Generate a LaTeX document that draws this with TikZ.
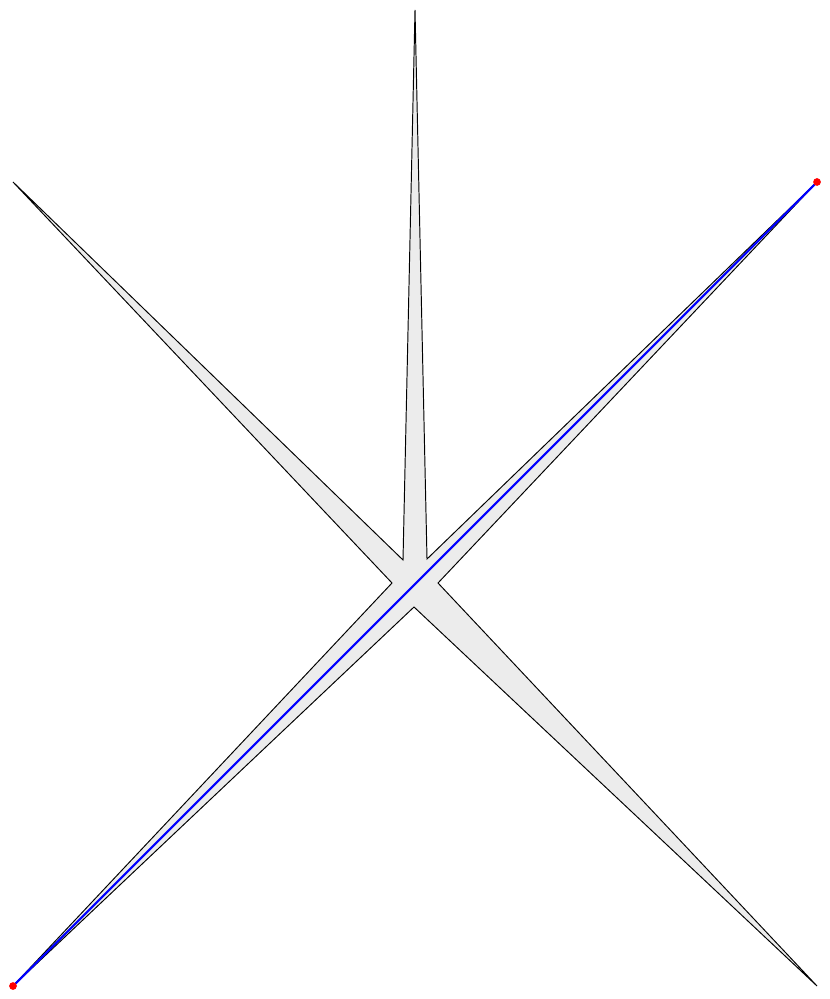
\documentclass[tikz,border=0pt]{standalone}
\usepackage{tikz}

\begin{document}
\begin{tikzpicture}[x=0.02cm,y=-0.02cm]
\useasboundingbox (0,0) rectangle (830,999);
% tips of the spikes
\coordinate (T) at (415,10);
\coordinate (TL) at (13,182);
\coordinate (TR) at (817,182);
\coordinate (BL) at (13,986);
\coordinate (BR) at (817,986);
% inner corners
\coordinate (A) at (403,560);
\coordinate (B) at (392,583);
\coordinate (C) at (414,607);
\coordinate (D) at (438,583);
\coordinate (E) at (427,559);
\draw[line width=0.55pt,fill=gray!15] (T)--(A)--(TL)--(B)--(BL)--(C)--(BR)--(D)--(TR)--(E)--cycle;

\draw[blue,line width=1.2pt] (BL)--(TR);
\fill[red] (BL) circle (2.2pt);
\fill[red] (TR) circle (2.2pt);% end points
\end{tikzpicture}
\end{document}
